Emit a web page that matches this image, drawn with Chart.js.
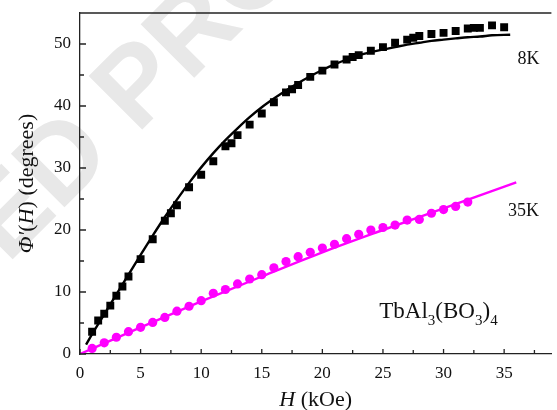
<!DOCTYPE html>
<html lang="en">
<head>
<meta charset="UTF-8">
<title>Faraday rotation TbAl3(BO3)4</title>
<script src="https://cdn.jsdelivr.net/npm/chart.js@4.4.1/dist/chart.umd.min.js"></script>
<style>
  html, body { margin: 0; padding: 0; background: #fff; overflow: hidden; }
  canvas { display: block; }
</style>
</head>
<body>
<canvas id="rot" width="557" height="410"></canvas>
<script>
/* ---------- measured points, 8 K ---------- */
const field8 = [1, 1.5, 2, 2.5, 3, 3.5, 4, 5, 6, 7, 7.5, 8, 9, 10, 11, 12, 12.5, 13, 14, 15, 16, 17, 17.5, 18, 19, 20,
  21, 22, 22.5, 23, 24, 25, 26, 27, 27.5, 28, 29, 30, 31, 32, 32.5, 33, 34, 35];
const phi8 = [3.6, 5.4, 6.5, 7.8, 9.4, 10.9, 12.5, 15.3, 18.5, 21.5, 22.7, 24.0, 26.9, 28.9, 31.1, 33.5, 34.0, 35.3, 37.0, 38.8,
  40.6, 42.2, 42.7, 43.4, 44.7, 45.7, 46.7, 47.5, 47.9, 48.2, 48.9, 49.5, 50.2, 50.7, 51.0, 51.3, 51.6, 51.8, 52.1,
  52.5, 52.6, 52.6, 53.0, 52.7];

/* ---------- measured points, 35 K ---------- */
const field35 = [1, 2, 3, 4, 5, 6, 7, 8, 9, 10, 11, 12, 13, 14, 15, 16, 17, 18, 19, 20, 21, 22, 23, 24, 25, 26, 27, 28, 29, 30, 31, 32];
const phi35 = [0.9, 1.8, 2.7, 3.6, 4.3, 5.1, 5.9, 6.9, 7.7, 8.6, 9.8, 10.4, 11.3, 12.1, 12.8, 13.9, 14.9, 15.7, 16.4, 17.1,
  17.7, 18.6, 19.3, 20.0, 20.4, 20.8, 21.6, 21.7, 22.7, 23.3, 23.8, 24.5];

/* ---------- calculated curves ---------- */
const fitField8 = [0.5, 1, 2, 3, 4, 5, 6, 7, 8, 9, 10, 11, 12, 13, 14, 15, 16, 17, 18, 19, 20, 21, 22, 23, 24, 25, 26, 27, 28, 29, 30, 31, 32, 33, 34, 35.5];
const fitPhi8 = [1.5, 3.2, 6.4, 9.6, 12.8, 16.0, 19.1, 22.1, 24.9, 27.6, 30.1, 32.4, 34.5, 36.4, 38.2, 39.8, 41.2, 42.5, 43.7,
  44.8, 45.8, 46.7, 47.5, 48.2, 48.7, 49.1, 49.5, 49.9, 50.2, 50.5, 50.7, 50.9, 51.1, 51.2, 51.4, 51.5];
const fitField35 = [0, 5, 10, 15, 20, 25, 30, 36];
const fitPhi35 = [0, 4.3, 8.5, 12.5, 16.4, 20.0, 23.5, 27.7];

/* ---------- axes ---------- */
const xTicks = [0, 5, 10, 15, 20, 25, 30, 35];
const xMinor = [2.5, 7.5, 12.5, 17.5, 22.5, 27.5, 32.5, 37.5];
const yTicks = [0, 10, 20, 30, 40, 50];
const yMinor = [5, 15, 25, 35, 45];

const SERIF = '"Liberation Serif", serif';
const MAGENTA = '#ff00ff';
const AXIS = '#222';

const pts = (xs, ys) => xs.map((x, i) => ({ x: x, y: ys[i] }));

// draw a row of text pieces with different styles, centred or left-aligned at (x, y)
function drawRuns(ctx, runs, x, y, align) {
  let total = 0;
  runs.forEach(r => { ctx.font = r.font; r.w = ctx.measureText(r.t).width; total += r.w; });
  let cx = align === 'center' ? x - total / 2 : x;
  ctx.textAlign = 'left';
  runs.forEach(r => {
    ctx.font = r.font;
    ctx.fillText(r.t, cx, y + (r.dy || 0));
    cx += r.w;
  });
}

const decorations = {
  id: 'decorations',
  beforeDraw(chart) {
    const ctx = chart.ctx;
    ctx.save();
    ctx.fillStyle = '#fff';
    ctx.fillRect(0, 0, chart.width, chart.height);
    // stamp across the upper left
    ctx.translate(-14, 243);
    ctx.rotate(-Math.PI / 4);
    ctx.fillStyle = '#e8e8e8';
    ctx.font = "bold 110px 'Liberation Sans', Arial, sans-serif";
    ctx.textBaseline = 'middle';
    ctx.fillText('ED PROOF', 0, 0);
    ctx.restore();
  },
  afterDraw(chart) {
    const ctx = chart.ctx;
    const xs = chart.scales.x, ys = chart.scales.y;
    const a = chart.chartArea;
    ctx.save();
    ctx.strokeStyle = AXIS;
    ctx.lineWidth = 1.3;
    // top frame line
    ctx.beginPath();
    ctx.moveTo(a.left, a.top);
    ctx.lineTo(a.right, a.top);
    ctx.stroke();
    // inward ticks
    ctx.beginPath();
    xTicks.forEach(v => { const p = xs.getPixelForValue(v); ctx.moveTo(p, a.bottom); ctx.lineTo(p, a.bottom - 5); });
    xMinor.forEach(v => { const p = xs.getPixelForValue(v); ctx.moveTo(p, a.bottom); ctx.lineTo(p, a.bottom - 4); });
    yTicks.forEach(v => { const p = ys.getPixelForValue(v); ctx.moveTo(a.left, p); ctx.lineTo(a.left + 6, p); });
    yMinor.forEach(v => { const p = ys.getPixelForValue(v); ctx.moveTo(a.left, p); ctx.lineTo(a.left + 4, p); });
    ctx.stroke();

    ctx.fillStyle = '#111';
    // tick labels
    ctx.font = '17px ' + SERIF;
    ctx.textAlign = 'center';
    ctx.textBaseline = 'alphabetic';
    xTicks.forEach(v => ctx.fillText(String(v), xs.getPixelForValue(v), a.bottom + 24));
    ctx.textAlign = 'right';
    ctx.textBaseline = 'middle';
    yTicks.forEach(v => ctx.fillText(String(v), a.left - 9, ys.getPixelForValue(v)));

    ctx.textBaseline = 'alphabetic';
    // x title
    drawRuns(ctx, [
      { t: 'H', font: 'italic 22px ' + SERIF },
      { t: ' (kOe)', font: '22px ' + SERIF }
    ], (a.left + a.right) / 2, 406, 'center');
    // y title
    ctx.save();
    ctx.translate(33, (a.top + a.bottom) / 2);
    ctx.rotate(-Math.PI / 2);
    drawRuns(ctx, [
      { t: 'Φ′', font: 'italic 22px ' + SERIF },
      { t: '(', font: '22px ' + SERIF },
      { t: 'H', font: 'italic 22px ' + SERIF },
      { t: ') (degrees)', font: '22px ' + SERIF }
    ], 0, 0, 'center');
    ctx.restore();

    // curve labels
    ctx.font = '18px ' + SERIF;
    ctx.textAlign = 'center';
    ctx.fillText('8K', xs.getPixelForValue(37.0), ys.getPixelForValue(46.7));
    ctx.fillText('35K', xs.getPixelForValue(36.6), ys.getPixelForValue(22.2));
    drawRuns(ctx, [
      { t: 'TbAl', font: '23px ' + SERIF },
      { t: '3', font: '15px ' + SERIF, dy: 7 },
      { t: '(BO', font: '23px ' + SERIF },
      { t: '3', font: '15px ' + SERIF, dy: 7 },
      { t: ')', font: '23px ' + SERIF },
      { t: '4', font: '15px ' + SERIF, dy: 7 }
    ], xs.getPixelForValue(24.7), ys.getPixelForValue(5.8), 'left');
    ctx.restore();
  }
};

new Chart(document.getElementById('rot'), {
  type: 'scatter',
  plugins: [decorations],
  data: {
    datasets: [
      {
        type: 'line',
        data: pts(fitField8, fitPhi8),
        borderColor: '#000',
        borderWidth: 2.4,
        pointRadius: 0,
        cubicInterpolationMode: 'monotone',
        fill: false
      },
      {
        type: 'line',
        data: pts(fitField35, fitPhi35),
        borderColor: MAGENTA,
        borderWidth: 2.4,
        pointRadius: 0,
        cubicInterpolationMode: 'monotone',
        fill: false
      },
      {
        data: pts(field8, phi8),
        pointStyle: 'rect',
        pointRadius: 5.6,
        backgroundColor: '#000',
        borderWidth: 0
      },
      {
        data: pts(field35, phi35),
        pointStyle: 'circle',
        pointRadius: 4.6,
        backgroundColor: MAGENTA,
        borderWidth: 0
      }
    ]
  },
  options: {
    responsive: false,
    animation: false,
    devicePixelRatio: 1,
    layout: { padding: { top: 13, right: 0, left: 0, bottom: 0 } },
    plugins: { legend: { display: false }, tooltip: { enabled: false } },
    scales: {
      x: {
        type: 'linear',
        min: 0,
        max: 38.9,
        afterBuildTicks: s => { s.ticks = xTicks.map(v => ({ value: v })); },
        afterFit: s => { s.height = 56; },
        grid: { display: false, drawTicks: false },
        border: { display: true, color: AXIS, width: 1.3 },
        ticks: { display: false }
      },
      y: {
        type: 'linear',
        min: 0,
        max: 55,
        afterBuildTicks: s => { s.ticks = yTicks.map(v => ({ value: v })); },
        afterFit: s => { s.width = 80; },
        grid: { display: false, drawTicks: false },
        border: { display: true, color: AXIS, width: 1.3 },
        ticks: { display: false }
      }
    }
  }
});
</script>
</body>
</html>
